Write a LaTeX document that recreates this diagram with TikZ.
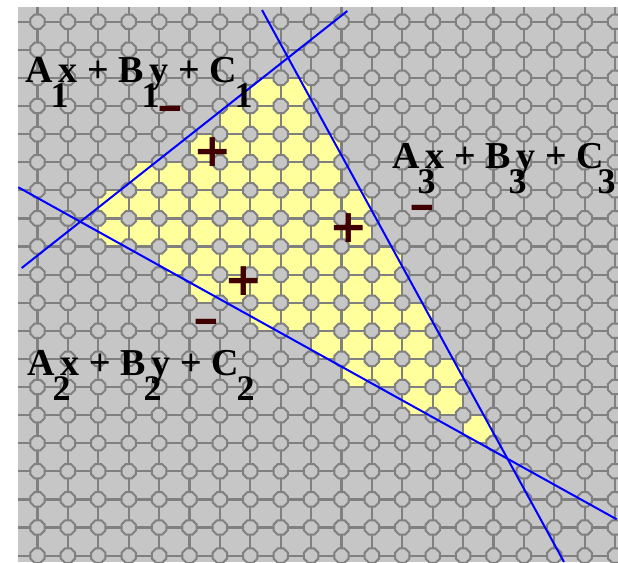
\documentclass[tikz,border=0pt]{standalone}
\usepackage{fontspec}
\setmainfont{Liberation Serif}
\newfontfamily\signfont{DejaVu Sans}
\usetikzlibrary{shapes.geometric}
\definecolor{tilegray}{HTML}{C6C6C6}
\definecolor{seamgray}{HTML}{808080}
\definecolor{cellyellow}{HTML}{FFFF9C}
\definecolor{signred}{HTML}{400000}
\definecolor{lineblue}{HTML}{0000FF}
\newcommand\idx[2][8pt]{\kern3pt\makebox[0pt]{\hspace{#1}\raisebox{-25pt}{\fontsize{36}{36}\selectfont #2}}\kern3pt}

\begin{document}
\begin{tikzpicture}[
  x=1pt, y=-1pt,
  seam/.style={draw=seamgray, line width=2.2pt},
  knot/.style={regular polygon, regular polygon sides=8, minimum size=15.5pt,
               inner sep=0pt, fill=tilegray, draw=seamgray, line width=2pt},
  cell/.style={fill=cellyellow},
  bound/.style={draw=lineblue, line width=2pt},
  eq/.style={anchor=base west, inner sep=0pt, font=\fontsize{38}{40}\selectfont\bfseries},
  sign/.style={inner sep=0pt, text=signred, font=\signfont\fontsize{46}{46}\selectfont\bfseries}
]
  \useasboundingbox (0,0) rectangle (618,562);
  \begin{scope}
    \clip (18,7) rectangle (618,562);
    \fill[tilegray] (18,7) rectangle (618,562);
    \foreach \j/\a/\b in {2/7/8, 3/6/8, 4/5/9, 5/3/9, 6/2/10, 7/2/10, 8/4/11,
                          9/5/11, 10/7/12, 11/9/12, 12/10/13, 13/12/13, 14/14/14}
      \foreach \i in {\a,...,\b}
        \fill[cell] (37.5+30.4*\i, 21.7+28.1*\j) rectangle +(30.4,28.1);
    \foreach \i in {0,...,19}
      \draw[seam] (37.5+30.4*\i, 7) -- (37.5+30.4*\i, 562);
    \foreach \j in {0,...,19}
      \draw[seam] (18, 21.7+28.1*\j) -- (618, 21.7+28.1*\j);
    \foreach \i in {0,...,19}
      \foreach \j in {0,...,19}
        \node[knot] (k\i-\j) at (37.5+30.4*\i, 21.7+28.1*\j) {};
  \end{scope}

  \coordinate (one-a) at (21.7,268);
  \coordinate (one-b) at (347.3,11);
  \coordinate (two-a) at (18.3,187.3);
  \coordinate (two-b) at (616.7,519.3);
  \coordinate (three-a) at (262,10);
  \coordinate (three-b) at (564,562);
  \draw[bound] (one-a) -- (one-b);
  \draw[bound] (two-a) -- (two-b);
  \draw[bound] (three-a) -- (three-b);

  \node[sign] (plusa) at (212.5,152.5) {+};
  \node[sign] (plusb) at (349,228) {+};
  \node[sign] (plusc) at (243.3,281) {+};
  \node[sign] (minusa) at (170,113) {\scalebox{1.45}[0.8]{-}};
  \node[sign] (minusb) at (422,211.5) {\scalebox{1.45}[0.8]{-}};
  \node[sign] (minusc) at (206,326) {\scalebox{1.45}[0.8]{-}};

  \node[eq] (eqone) at (25,82) {A\idx{1}x + B\idx{1}y + C\idx{1}};
  \node[eq] (eqthree) at (392,168) {A\idx{3}x + B\idx{3}y + C\idx[0pt]{3}};
  \node[eq] (eqtwo) at (27,375) {A\idx{2}x + B\idx{2}y + C\idx{2}};
\end{tikzpicture}
\end{document}
